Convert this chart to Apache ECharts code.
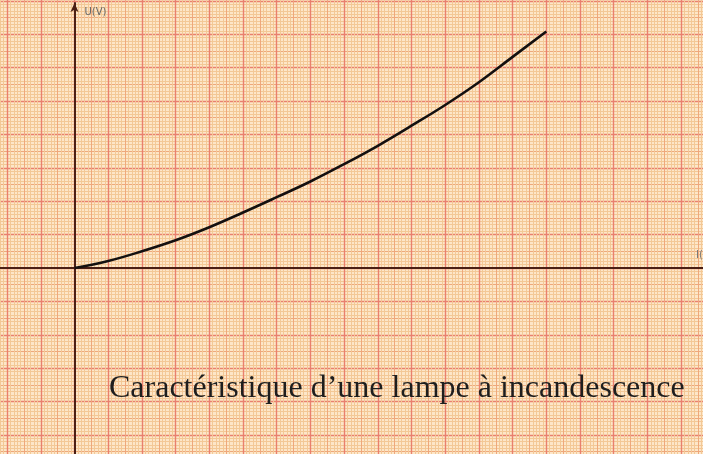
<!DOCTYPE html>
<html>
<head>
<meta charset="utf-8">
<script src="https://cdn.jsdelivr.net/npm/echarts@6/dist/echarts.min.js"></script>
<style>
  html, body { margin: 0; padding: 0; background: #fde6c8; }
  #chart { width: 703px; height: 454px; }
</style>
</head>
<body>
<div id="chart"></div>
<script>
// Measured points of the lamp characteristic, in graph-paper divisions (1 cm).
const courant = [0, 1, 2, 3, 4, 5, 6, 7, 8, 9, 10, 11, 12, 13, 14];
const tension = [0, 0.21, 0.5, 0.83, 1.22, 1.66, 2.12, 2.59, 3.11, 3.66, 4.26, 4.88, 5.56, 6.32, 7.08];
const titre = 'Caractéristique d’une lampe à incandescence';
const nomAxeX = 'I(mA)';
const nomAxeY = 'U(V)';

// Page geometry: pixel size of one division and where the origin sits.
const W = 703, H = 454;
const UX = 33.7, UY = 33.4;
const OX = 74.5, OY = 268;

// Paper sheet grid: extends past the page so whole divisions line up with the origin.
const PX_MIN = -3, PX_MAX = 19, PY_MIN = -6, PY_MAX = 9;
const paperGrid = {
  left: OX + PX_MIN * UX,
  top: OY - PY_MAX * UY,
  width: (PX_MAX - PX_MIN) * UX,
  height: (PY_MAX - PY_MIN) * UY
};
// Plot grid: exactly the visible page (a little room at top for the arrow).
const PLOT_TOP = 3;
const plotX = { min: -OX / UX, max: (W - OX) / UX };
const plotY = { min: -(H - OY) / UY, max: (OY - PLOT_TOP) / UY };

const hidden = { axisLine: { show: false }, axisTick: { show: false }, axisLabel: { show: false } };

function paperAxis(min, max, interval, split, minor) {
  return Object.assign({
    type: 'value', gridIndex: 0, min: min, max: max, interval: interval,
    splitLine: split ? { show: true, lineStyle: split } : { show: false },
    minorTick: { show: false, splitNumber: 10 },
    minorSplitLine: minor ? { show: true, lineStyle: minor } : { show: false }
  }, hidden);
}

const fine = { color: '#f3c896', width: 1 };
const medium = { color: '#eea87c', width: 1 };
const major = { color: '#e9806e', width: 1.4 };
const axisColor = '#4a1f14';

const chart = echarts.init(document.getElementById('chart'), null, { renderer: 'canvas' });
chart.setOption({
  backgroundColor: '#fde6c8',
  animation: false,
  title: {
    text: titre,
    left: 104,
    top: 368,
    textStyle: { fontFamily: 'Liberation Serif', fontSize: 32, fontWeight: 'normal', color: '#1e1e1e' }
  },
  grid: [
    Object.assign({ containLabel: false, outerBoundsMode: 'none' }, paperGrid),
    { left: 0, top: PLOT_TOP, width: W, height: H - PLOT_TOP, containLabel: false, outerBoundsMode: 'none' }
  ],
  xAxis: [
    paperAxis(PX_MIN, PX_MAX, 1, null, fine),
    paperAxis(PX_MIN, PX_MAX, 0.5, medium, null),
    paperAxis(PX_MIN, PX_MAX, 1, major, null),
    {
      type: 'value', gridIndex: 1, min: plotX.min, max: plotX.max,
      axisLine: { show: true, onZero: true, lineStyle: { color: axisColor, width: 2 } },
      axisTick: { show: false }, axisLabel: { show: false }, splitLine: { show: false },
      name: nomAxeX, nameLocation: 'end', nameGap: -7,
      nameTextStyle: { fontFamily: 'DejaVu Sans', fontSize: 10, color: '#777', align: 'left', verticalAlign: 'bottom', padding: [0, 0, 8, 0] }
    }
  ],
  yAxis: [
    paperAxis(PY_MIN, PY_MAX, 1, null, fine),
    paperAxis(PY_MIN, PY_MAX, 0.5, medium, null),
    paperAxis(PY_MIN, PY_MAX, 1, major, null),
    {
      type: 'value', gridIndex: 1, min: plotY.min, max: plotY.max,
      axisLine: { show: true, onZero: true, symbol: ['none', 'arrow'], symbolSize: [6, 9], lineStyle: { color: axisColor, width: 2 } },
      axisTick: { show: false }, axisLabel: { show: false }, splitLine: { show: false },
      name: nomAxeY, nameLocation: 'end', nameGap: -14,
      nameTextStyle: { fontFamily: 'DejaVu Sans', fontSize: 10, color: '#666', align: 'left', verticalAlign: 'bottom', padding: [0, 0, 0, 10] }
    }
  ],
  series: [{
    type: 'line',
    xAxisIndex: 3,
    yAxisIndex: 3,
    data: courant.map((x, i) => [x, tension[i]]),
    smooth: 0.4,
    showSymbol: false,
    lineStyle: { color: '#141010', width: 2.6 }
  }]
});
</script>
</body>
</html>
